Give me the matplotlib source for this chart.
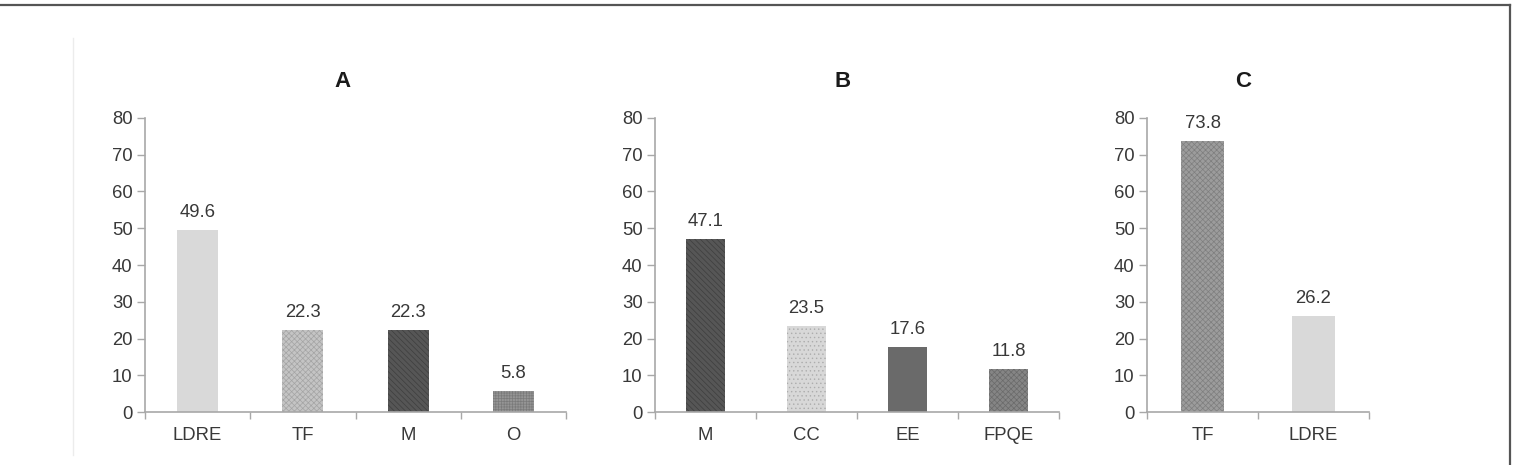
import matplotlib
matplotlib.use("Agg")
import matplotlib.pyplot as plt
from matplotlib.lines import Line2D

plt.rcParams['font.family'] = ['Liberation Sans', 'DejaVu Sans']
plt.rcParams['hatch.linewidth'] = 0.5

# ---- data ----
titles = ["A", "B", "C"]
cats_a = ["LDRE", "TF", "M", "O"]
vals_a = [49.6, 22.3, 22.3, 5.8]
cats_b = ["M", "CC", "EE", "FPQE"]
vals_b = [47.1, 23.5, 17.6, 11.8]
cats_c = ["TF", "LDRE"]
vals_c = [73.8, 26.2]
yticks = [0, 10, 20, 30, 40, 50, 60, 70, 80]

# ---- styles ----
styles = {
    "LDRE": dict(face="#d9d9d9", hatch=None, hc="#d9d9d9"),
    "TF_A": dict(face="#c4c4c4", hatch="xxxxxx", hc="#a4a4a4"),
    "M": dict(face="#565656", hatch="\\\\\\\\\\\\", hc="#3e3e3e"),
    "O": dict(face="#959595", hatch="++++++", hc="#7a7a7a"),
    "CC": dict(face="#d8d8d8", hatch="....", hc="#adadad"),
    "EE": dict(face="#6a6a6a", hatch=None, hc="#6a6a6a"),
    "FPQE": dict(face="#858585", hatch="xxxxxx", hc="#6a6a6a"),
    "TF_C": dict(face="#9c9c9c", hatch="xxxxxx", hc="#7e7e7e"),
}
keys_a = ["LDRE", "TF_A", "M", "O"]
keys_b = ["M", "CC", "EE", "FPQE"]
keys_c = ["TF_C", "LDRE"]

W, H = 1514, 465
fig = plt.figure(figsize=(W / 100, H / 100), dpi=100)

panels = [
    (cats_a, vals_a, keys_a, [145, 566], 0.470),
    (cats_b, vals_b, keys_b, [655, 1059], 0.465),
    (cats_c, vals_c, keys_c, [1147, 1369], 0.432),
]
bottom_px, top_px = 412, 118
txtcol = "#383838"
spcol = "#a8a8a8"
fs = 13.3

for (cats, vals, keys, (l, r), tx), title in zip(panels, titles):
    ax = fig.add_axes([l / W, 1 - bottom_px / H, (r - l) / W, (bottom_px - top_px) / H])
    n = len(cats)
    x = list(range(n))
    for xi, v, k in zip(x, vals, keys):
        st = styles[k]
        ax.bar(xi, v, width=0.39, color=st["face"], edgecolor=st["hc"],
               hatch=st["hatch"], linewidth=0, zorder=2)
        ax.text(xi, v + 2.4, f"{v:.1f}", ha="center", va="bottom",
                fontsize=fs, color=txtcol)
    ax.set_xlim(-0.5, n - 0.5)
    ax.set_ylim(0, 80)
    ax.set_yticks(yticks)
    ax.set_xticks(x)
    ax.set_xticklabels(cats)
    ax.set_xticks([i - 0.5 for i in range(n + 1)], minor=True)
    ax.tick_params(axis="x", which="major", length=0, pad=11, labelsize=fs,
                   labelcolor=txtcol)
    ax.tick_params(axis="x", which="minor", length=5, width=1, color=spcol,
                   direction="out")
    ax.tick_params(axis="y", length=6, width=1, color=spcol, pad=3,
                   labelsize=fs, labelcolor=txtcol)
    for s in ["top", "right"]:
        ax.spines[s].set_visible(False)
    for s in ["left", "bottom"]:
        ax.spines[s].set_color(spcol)
        ax.spines[s].set_linewidth(1.2)
    ax.text(tx, 1.125, title, transform=ax.transAxes, ha="center", va="center",
            fontsize=16, fontweight="bold", color="#1a1a1a")

# frame lines and faint separator
fig.add_artist(Line2D([0, 1510 / W], [1 - 5 / H, 1 - 5 / H], color="#555555", lw=1.6,
                      transform=fig.transFigure))
fig.add_artist(Line2D([1510 / W, 1510 / W], [0, 1 - 5 / H], color="#555555", lw=1.6,
                      transform=fig.transFigure))
fig.add_artist(Line2D([73 / W, 73 / W], [1 - 455 / H, 1 - 38 / H], color="#ececec", lw=1,
                      transform=fig.transFigure))

fig.savefig("out.png", dpi=100)
